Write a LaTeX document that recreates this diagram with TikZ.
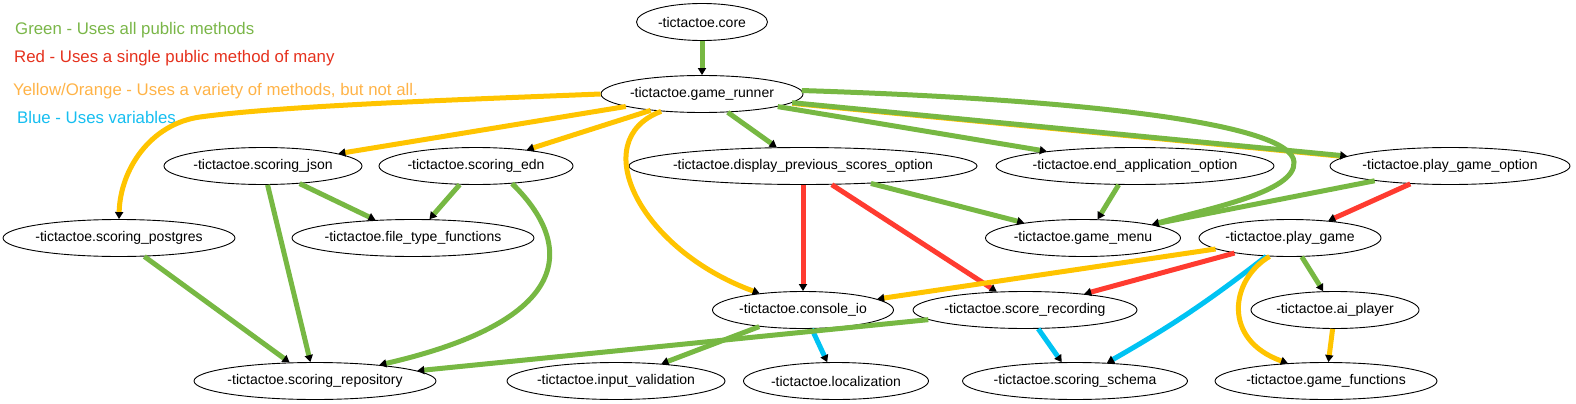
\documentclass[tikz,border=0pt]{standalone}
\usepackage{fontspec}
\setmainfont{Liberation Sans}
\usetikzlibrary{shapes.geometric,arrows.meta}
\definecolor{allgreen}{HTML}{77B843}
\definecolor{onered}{HTML}{FF3B30}
\definecolor{someyellow}{HTML}{FFC400}
\definecolor{varblue}{HTML}{00C3F3}
\definecolor{keygreen}{HTML}{7AB648}
\definecolor{keyred}{HTML}{E5311D}
\definecolor{keyorange}{HTML}{FFB347}
\definecolor{keyblue}{HTML}{16BEF0}

\begin{document}
\begin{tikzpicture}[x=1pt, y=-1pt,
  mod/.style={draw=black, line width=0.9pt, ellipse, inner xsep=-12pt, inner ysep=0pt, minimum height=37pt, minimum width=#1, font=\fontsize{14}{16}\selectfont},
  key/.style={anchor=base west, inner sep=0pt, font=\fontsize{16.8}{20}\selectfont},
  uses/.style={line width=5pt, -{Triangle[color=black, length=7pt, width=8pt]}},
  allpub/.style={uses, draw=allgreen},
  onepub/.style={uses, draw=onered},
  somepub/.style={uses, draw=someyellow},
  vars/.style={uses, draw=varblue}]
  \useasboundingbox (0,0) rectangle (1576,404);
  % Legend
  \node[key, text=keygreen] (keyall) at (15,35) {Green - Uses all public methods};
  \node[key, text=keyred] (keyone) at (14,63) {Red - Uses a single public method of many};
  \node[key, text=keyorange] (keysome) at (13,95) {Yellow/Orange - Uses a variety of methods, but not all.};
  \node[key, text=keyblue] (keyvars) at (17,123) {Blue - Uses variables};

  % Namespaces
  \node[mod=131pt] (core) at (702,22) {-tictactoe.core};
  \node[mod=202pt] (runner) at (702,94) {-tictactoe.game\_runner};

  \node[mod=198pt] (json) at (263,166) {-tictactoe.scoring\_json};
  \node[mod=194pt] (edn) at (476,166) {-tictactoe.scoring\_edn};
  \node[mod=348pt] (display) at (803,166) {-tictactoe.display\_previous\_scores\_option};
  \node[mod=278pt] (endapp) at (1135,166) {-tictactoe.end\_application\_option};
  \node[mod=240pt] (playopt) at (1450,166) {-tictactoe.play\_game\_option};

  \node[mod=232pt] (postgres) at (119,238) {-tictactoe.scoring\_postgres};
  \node[mod=242pt] (filetype) at (413,238) {-tictactoe.file\_type\_functions};
  \node[mod=195pt] (menu) at (1083,238) {-tictactoe.game\_menu};
  \node[mod=182pt] (play) at (1290,238) {-tictactoe.play\_game};

  \node[mod=181pt] (console) at (803,310) {-tictactoe.console\_io};
  \node[mod=224pt] (recording) at (1025,310) {-tictactoe.score\_recording};
  \node[mod=168pt] (ai) at (1335,310) {-tictactoe.ai\_player};

  \node[mod=242pt] (repository) at (315,381) {-tictactoe.scoring\_repository};
  \node[mod=218pt] (validation) at (616,381) {-tictactoe.input\_validation};
  \node[mod=185pt] (localization) at (836,381) {-tictactoe.localization};
  \node[mod=225pt] (schema) at (1075,381) {-tictactoe.scoring\_schema};
  \node[mod=222pt] (gamefn) at (1326,381) {-tictactoe.game\_functions};

  % Dependencies
  \draw[allpub] (core) -- (runner);

  \draw[somepub] (runner.west) .. controls (450,100) and (280,106) .. (200,117)
    .. controls (150,124) and (120,170) .. (postgres.north);
  \draw[somepub] (runner) -- (json);
  \draw[somepub] (runner) -- (edn);
  \draw[somepub] (runner.203) .. controls (585,140) and (640,250) .. (console.159);
  \draw[allpub] (runner) -- (display);
  \draw[allpub] (runner) -- (endapp);
  \draw[someyellow, line width=4pt, shorten >=8pt, transform canvas={yshift=-1.2pt}] (runner) -- (playopt);
  \draw[allpub] (runner) -- (playopt);
  \draw[allpub] (runner.2) .. controls (1100,100) and (1292,125) .. (1294,162)
    .. controls (1296,192) and (1210,208) .. (menu.11);

  \draw[onepub] (display.south) -- (console.north);
  \draw[onepub] (display) -- (recording);
  \draw[allpub] (display) -- (menu);
  \draw[allpub] (endapp.229) -- (menu.52);
  \draw[allpub] (playopt) -- (menu);
  \draw[onepub] (playopt) -- (play);

  \draw[allpub] (json) -- (filetype);
  \draw[allpub] (json) -- (repository);
  \draw[allpub] (edn) -- (filetype);
  \draw[allpub] (edn.-26) .. controls (575,245) and (575,320) .. (repository.14);
  \draw[allpub] (postgres) -- (repository);

  \draw[somepub] (play) -- (console);
  \draw[onepub] (play) -- (recording);
  \draw[vars] (play) to[bend left=4] (schema);
  \draw[somepub] (play.222) .. controls (1230,280) and (1222,340) .. (gamefn.155);
  \draw[allpub] (play) -- (ai);
  \draw[somepub] (ai) -- (gamefn);

  \draw[allpub] (console) -- (validation);
  \draw[vars] (console) -- (localization);
  \draw[allpub] (recording) -- (repository);
  \draw[vars] (recording) -- (schema);
\end{tikzpicture}
\end{document}
